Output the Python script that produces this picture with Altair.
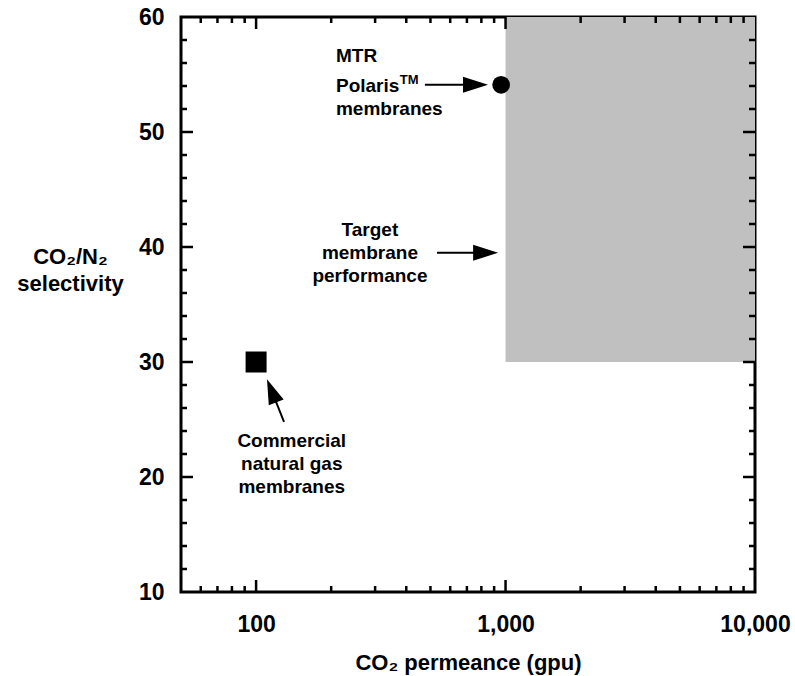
import altair as alt
import pandas as pd

FONT = "Liberation Sans"

# ---- axis ticks / labels ----
x_label_values = [100, 1000, 10000]
y_label_values = [10, 20, 30, 40, 50, 60]
x_minor_ticks = [60, 70, 80, 90, 200, 300, 400, 500, 600, 700, 800, 900,
                 2000, 3000, 4000, 5000, 6000, 7000, 8000, 9000]
x_major_ticks = [100, 1000]
y_minor_ticks = [12, 14, 16, 18, 22, 24, 26, 28, 32, 34, 36, 38,
                 42, 44, 46, 48, 52, 54, 56, 58]
y_major_ticks = [20, 30, 40, 50]

# ---- target region ----
target_perm = [1000, 10000]
target_sel = [30, 60]

# ---- membranes ----
membrane_names = ["MTR Polaris", "Commercial natural gas"]
membrane_perm = [960, 100]
membrane_sel = [54.1, 30]
membrane_shape = ["circle", "square"]
membrane_size = [314, 441]

# ---- arrows (tail -> head centre) ----
arrow_tail_x = [475, 531, 129.4]
arrow_tail_y = [54.1, 39.5, 24.8]
arrow_head_x = [758, 832, 115.4]
arrow_head_y = [54.1, 39.5, 27.5]
arrow_angle = [0, 0, 248.4]

# ---- annotation lines ----
left_text = ["MTR", "Polaris", "membranes"]
left_x = [209, 209, 209]
left_y = [56.1, 53.5, 51.5]

sup_text = ["TM"]
sup_x = [377]
sup_y = [54.2]

center_text = ["Target", "membrane", "performance",
               "Commercial", "natural gas", "membranes"]
center_x = [286, 286, 286, 139, 139, 139]
center_y = [41.0, 39.0, 37.0, 22.6, 20.6, 18.6]

W, H = 574, 575

xs = alt.Scale(type="log", domain=[50, 10000])
ys = alt.Scale(type="linear", domain=[10, 60], nice=False, zero=False)

XAXIS = alt.Axis(
    values=x_label_values, format=",", title="CO\u2082 permeance (gpu)",
    ticks=False, tickSize=0, domain=False, grid=False,
    labelFont=FONT, labelFontSize=23, labelFontWeight="bold", labelColor="black",
    labelPadding=21, labelFlush=False,
    titleFont=FONT, titleFontSize=22, titleFontWeight="bold", titleColor="black",
    titleY=77, titleBaseline="alphabetic")
YAXIS = alt.Axis(
    values=y_label_values, title=["CO\u2082/N\u2082", "selectivity"],
    ticks=False, tickSize=0, domain=False, grid=False,
    labelFont=FONT, labelFontSize=23, labelFontWeight="bold", labelColor="black",
    labelPadding=17,
    titleFont=FONT, titleFontSize=22, titleFontWeight="bold", titleColor="black",
    titleAngle=0, titleAlign="center", titleBaseline="middle",
    titleX=-111, titleY=239, titleLineHeight=27)


def X(field):
    return alt.X(field, scale=xs, axis=XAXIS)


def Y(field):
    return alt.Y(field, scale=ys, axis=YAXIS)


target_df = pd.DataFrame({"x": [target_perm[0]], "x2": [target_perm[1]],
                          "y": [target_sel[0]], "y2": [target_sel[1]]})

rect = alt.Chart(target_df).mark_rect(color="#c0c0c0").encode(
    x=X("x:Q"), x2="x2:Q", y=Y("y:Q"), y2="y2:Q",
)


def vticks(values, length, top):
    df = pd.DataFrame({"x": values})
    if top:
        yv, y2v = alt.value(0), alt.value(length)
    else:
        yv, y2v = alt.value(H), alt.value(H - length)
    return alt.Chart(df).mark_rule(color="black", strokeWidth=2.5).encode(
        x=X("x:Q"), y=yv, y2=y2v)


def hticks(values, length, left):
    df = pd.DataFrame({"y": values})
    if left:
        xv, x2v = alt.value(0), alt.value(length)
    else:
        xv, x2v = alt.value(W), alt.value(W - length)
    return alt.Chart(df).mark_rule(color="black", strokeWidth=2.5).encode(
        y=Y("y:Q"), x=xv, x2=x2v)


ticks = [
    vticks(x_minor_ticks, 6, False), vticks(x_major_ticks, 12, False),
    vticks(x_minor_ticks, 6, True), vticks(x_major_ticks, 12, True),
    hticks(y_minor_ticks, 6, True), hticks(y_major_ticks, 12, True),
    hticks(y_minor_ticks, 6, False), hticks(y_major_ticks, 12, False),
]

mem_df = pd.DataFrame({"name": membrane_names, "x": membrane_perm, "y": membrane_sel,
                       "shape": membrane_shape, "size": membrane_size})
points = alt.Chart(mem_df).mark_point(filled=True, color="black", opacity=1).encode(
    x=X("x:Q"), y=Y("y:Q"),
    shape=alt.Shape("shape:N", scale=None),
    size=alt.Size("size:Q", scale=None),
)

arrow_df = pd.DataFrame({"x": arrow_tail_x, "y": arrow_tail_y,
                         "x2": arrow_head_x, "y2": arrow_head_y, "angle": arrow_angle})
shafts = alt.Chart(arrow_df).mark_rule(color="black", strokeWidth=2).encode(
    x=X("x:Q"), x2="x2:Q", y=Y("y:Q"), y2="y2:Q",
)
heads_df = pd.DataFrame({"x": arrow_head_x, "y": arrow_head_y, "angle": arrow_angle})
heads = alt.Chart(heads_df).mark_point(
    shape="M-1,-0.64L1,0L-1,0.64Z", filled=True, color="black", opacity=1, size=625
).encode(
    x=X("x:Q"), y=Y("y:Q"),
    angle=alt.Angle("angle:Q", scale=None),
)

left_df = pd.DataFrame({"t": left_text, "x": left_x, "y": left_y})
left_lbl = alt.Chart(left_df).mark_text(
    align="left", baseline="alphabetic", font=FONT, fontSize=19, fontWeight="bold", color="black"
).encode(x=X("x:Q"), y=Y("y:Q"), text="t:N")

sup_df = pd.DataFrame({"t": sup_text, "x": sup_x, "y": sup_y})
sup_lbl = alt.Chart(sup_df).mark_text(
    align="left", baseline="alphabetic", font=FONT, fontSize=13, fontWeight="bold", color="black"
).encode(x=X("x:Q"), y=Y("y:Q"), text="t:N")

center_df = pd.DataFrame({"t": center_text, "x": center_x, "y": center_y})
center_lbl = alt.Chart(center_df).mark_text(
    align="center", baseline="alphabetic", font=FONT, fontSize=19, fontWeight="bold", color="black"
).encode(x=X("x:Q"), y=Y("y:Q"), text="t:N")

chart = alt.layer(rect, *ticks, shafts, heads, points, left_lbl, sup_lbl, center_lbl).properties(
    width=W, height=H,
    autosize=alt.AutoSizeParams(type="none"),
    padding={"left": 181, "top": 17, "right": 40, "bottom": 84},
    background="white",
).configure_view(stroke="black", strokeWidth=3)

chart.save("out.html", embed_options={"renderer": "svg", "actions": False})
